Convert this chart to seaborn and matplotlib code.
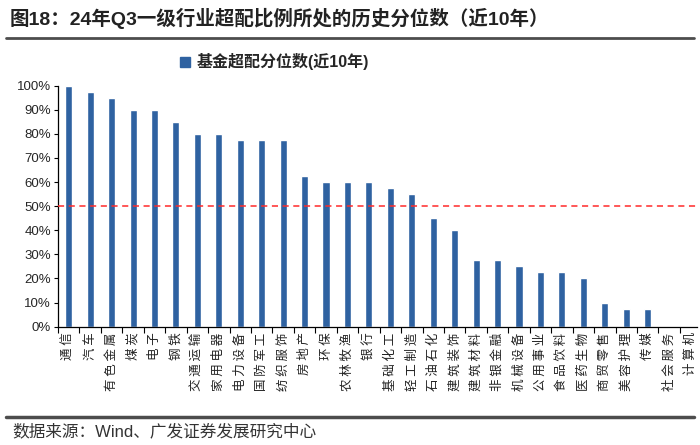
import matplotlib
matplotlib.use("Agg")
import matplotlib.pyplot as plt
import matplotlib.ticker as mtick
from matplotlib.lines import Line2D
from matplotlib.patches import Patch
import seaborn as sns
import pandas as pd
import numpy as np

# 行业与超配分位数（近10年）
hangye = ["通信", "汽车", "有色金属", "煤炭", "电子", "钢铁", "交通运输", "家用电器",
          "电力设备", "国防军工", "纺织服饰", "房地产", "环保", "农林牧渔", "银行",
          "基础化工", "轻工制造", "石油石化", "建筑装饰", "建筑材料", "非银金融",
          "机械设备", "公用事业", "食品饮料", "医药生物", "商贸零售", "美容护理",
          "传媒", "社会服务", "计算机"]
fenweishu = [1.00, 0.975, 0.95, 0.90, 0.90, 0.85, 0.80, 0.80, 0.775, 0.775, 0.775,
             0.625, 0.60, 0.60, 0.60, 0.575, 0.55, 0.45, 0.40, 0.275, 0.275, 0.25,
             0.225, 0.225, 0.20, 0.10, 0.075, 0.075, 0.0, 0.0]
yticks = [0, 0.1, 0.2, 0.3, 0.4, 0.5, 0.6, 0.7, 0.8, 0.9, 1.0]

titulo = "图18：24年Q3一级行业超配比例所处的历史分位数（近10年）"
serie = "基金超配分位数(近10年)"
fuente = "数据来源：Wind、广发证券发展研究中心"

df = pd.DataFrame({"hangye": hangye, "valor": fenweishu})

sns.set_theme(style="white")
plt.rcParams["font.family"] = ["Liberation Sans", "Noto Sans CJK SC", "DejaVu Sans"]
azul = "#2f62a1"

fig = plt.figure(figsize=(7, 4.45), dpi=100)
ax = fig.add_axes([58 / 700, 1 - 326.7 / 445, 639 / 700, 241 / 445])

sns.barplot(data=df, x="hangye", y="valor", color=azul, width=0.33,
            saturation=1, ax=ax)
ax.axhline(0.5, color="#ff2a2a", ls=(0, (4, 3)), lw=1.1, zorder=3)

ax.set_ylim(0, 1)
ax.set_xlim(-0.5, 29.3)
ax.set_yticks(yticks)
ax.yaxis.set_major_formatter(mtick.PercentFormatter(1.0, decimals=0))
ax.set_xlabel("")
ax.set_ylabel("")

for s in ["top", "right"]:
    ax.spines[s].set_visible(False)
for s in ["left", "bottom"]:
    ax.spines[s].set_color("black")
    ax.spines[s].set_linewidth(0.9)

ax.tick_params(axis="y", which="major", direction="out", length=3, width=0.8,
               color="black", labelsize=9.5, pad=2, left=True)
ax.tick_params(axis="x", which="major", length=0, pad=4)
ax.set_xticks(range(len(hangye)))
# 标签字间留空，仿原图的竖排效果
ax.set_xticklabels([" ".join(h) for h in hangye])
ax.set_xticks(np.arange(-0.5, 29.5, 1.0), minor=True)
ax.tick_params(axis="x", which="minor", direction="out", length=4, width=0.8,
               color="black", bottom=True)
for lab in ax.get_xticklabels():
    lab.set_rotation(90)
    lab.set_va("top")
    lab.set_ha("center")
    lab.set_fontsize(9)
    lab.set_color("#222222")
    lab.set_family(["Noto Sans CJK SC"])

ax.legend(handles=[Patch(color=azul)], labels=[serie], loc="center",
          bbox_to_anchor=(0.392, 1 - 62 / 445), bbox_transform=fig.transFigure,
          frameon=False, handlelength=0.6, handleheight=0.6, handletextpad=0.4,
          prop={"family": ["Liberation Sans", "Noto Sans CJK SC"],
                "weight": "bold", "size": 11.5})

fig.text(10 / 700, 1 - 18 / 445, titulo, ha="left", va="center", fontsize=14,
         fontweight="bold", color="#222222",
         family=["Liberation Sans", "Noto Sans CJK SC"])
fig.add_artist(Line2D([6 / 700, 694 / 700], [1 - 38 / 445] * 2,
                      color="#4d4d4d", lw=2))
fig.add_artist(Line2D([6 / 700, 694 / 700], [1 - 417 / 445] * 2,
                      color="#4d4d4d", lw=2.5))
fig.text(12 / 700, 1 - 431 / 445, fuente, ha="left", va="center", fontsize=12,
         color="#333333", family=["Liberation Sans", "Noto Sans CJK SC"])

fig.savefig("out.png", dpi=100)
